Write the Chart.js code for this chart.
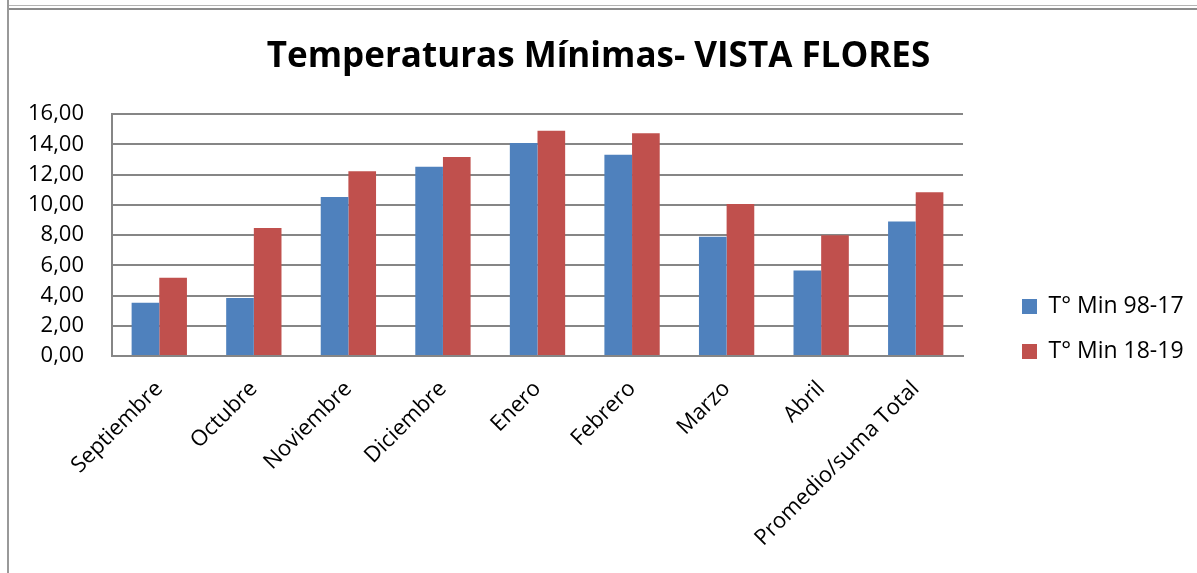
<!DOCTYPE html>
<html>
<head>
<meta charset="utf-8">
<title>Temperaturas Mínimas- VISTA FLORES</title>
<script src="https://cdn.jsdelivr.net/npm/chart.js@4/dist/chart.umd.min.js"></script>
<style>
  html, body { margin: 0; padding: 0; background: #fff; }
  #wrap { position: relative; width: 1197px; height: 573px; overflow: hidden; }
  .ln { position: absolute; }
  #topA { left: 7px; top: 5px; width: 1190px; height: 1px; background: #b4b4b4; }
  #topB { left: 7px; top: 8px; width: 1190px; height: 2px; background: #8c8c8c; }
  #leftA { left: 7px; top: 0; width: 2px; height: 573px; background: #999; }
  canvas { position: absolute; left: 0; top: 0; }
</style>
</head>
<body>
<div id="wrap">
  <div class="ln" id="topA"></div>
  <div class="ln" id="topB"></div>
  <div class="ln" id="leftA"></div>
  <canvas id="chart" width="1197" height="573"></canvas>
</div>
<script>
// Temperaturas minimas - Vista Flores
const months = ['Septiembre', 'Octubre', 'Noviembre', 'Diciembre', 'Enero', 'Febrero', 'Marzo', 'Abril', 'Promedio/suma Total'];
const min9817 = [3.52, 3.83, 10.51, 12.52, 14.08, 13.31, 7.89, 5.66, 8.90];
const min1819 = [5.18, 8.46, 12.21, 13.16, 14.90, 14.72, 10.05, 7.98, 10.82];
const seriesNames = ['T° Min 98-17', 'T° Min 18-19'];
const yMin = 0, yMax = 16, yStep = 2;

const BLUE = '#4F81BD';
const RED = '#C0504D';
const GRID = '#868686';
const FONT = '"Open Sans", "DejaVu Sans", sans-serif';

function fmt(v) { return Number(v).toFixed(2).replace('.', ','); }

// keep the legend where Excel put it (to the right, below middle)
const legendPlace = {
  id: 'legendPlace',
  afterInit(chart) {
    const lg = chart.legend; if (!lg) return;
    const orig = lg.fit;
    lg.fit = function () { orig.call(this); this.width = 234; };
  },
  afterLayout(chart) {
    const lg = chart.legend; if (!lg) return;
    lg.left = 1000; lg.right = lg.left + lg.width;
    lg.top = 273; lg.bottom = lg.top + lg.height;
  }
};

const ctx = document.getElementById('chart').getContext('2d');
new Chart(ctx, {
  type: 'bar',
  data: {
    labels: months,
    datasets: [
      { label: seriesNames[0], data: min9817, backgroundColor: BLUE, borderWidth: 0 },
      { label: seriesNames[1], data: min1819, backgroundColor: RED, borderWidth: 0 }
    ]
  },
  options: {
    responsive: false,
    animation: false,
    devicePixelRatio: 1,
    layout: { padding: 0 },
    datasets: { bar: { categoryPercentage: 0.585, barPercentage: 1.0 } },
    scales: {
      x: {
        grid: { display: false },
        border: { display: true, color: GRID, width: 2 },
        ticks: { color: '#000', font: { family: FONT, size: 22 }, maxRotation: 45, minRotation: 45, padding: 12, autoSkip: false },
        afterFit(scale) { scale.height = 217; }
      },
      y: {
        min: yMin, max: yMax,
        grid: { color: GRID, lineWidth: 2, drawTicks: false },
        border: { display: true, color: GRID, width: 2 },
        ticks: { stepSize: yStep, color: '#000', font: { family: FONT, size: 22 }, padding: 28, callback: v => fmt(v) },
        afterFit(scale) { scale.width = 112; }
      }
    },
    plugins: {
      title: {
        display: true,
        text: 'Temperaturas Mínimas- VISTA FLORES',
        color: '#000',
        font: { family: FONT, size: 35, weight: 'bold', lineHeight: 1.2 },
        padding: { top: 36, bottom: 36 }
      },
      legend: {
        position: 'right',
        align: 'start',
        labels: { color: '#000', boxWidth: 15, boxHeight: 15, padding: 22, font: { family: FONT, size: 23 } }
      },
      tooltip: { enabled: false }
    }
  },
  plugins: [legendPlace]
});
</script>
</body>
</html>
